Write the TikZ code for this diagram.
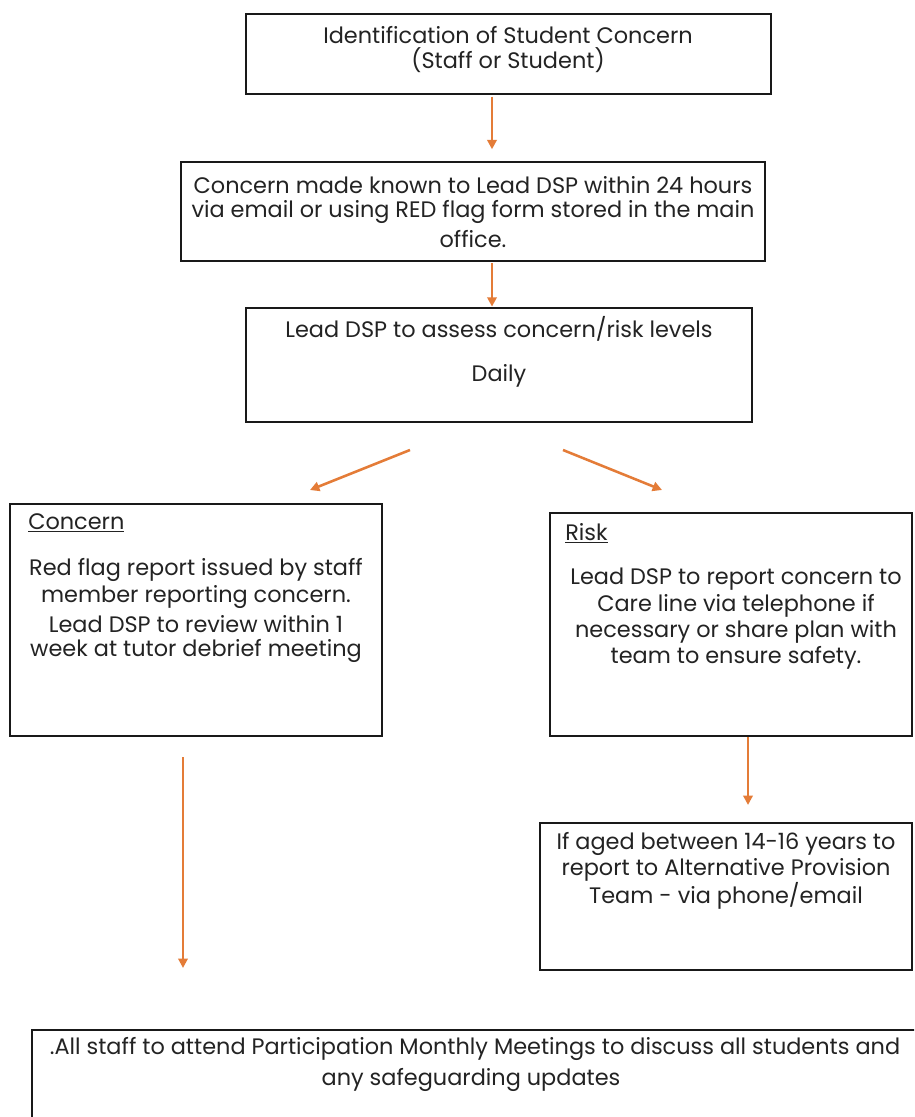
\documentclass[tikz,border=0pt]{standalone}
\usepackage{fontspec}
\setmainfont{Poppins}
\usetikzlibrary{arrows.meta,calc}
\definecolor{arrowc}{RGB}{228,124,56}
\definecolor{txt}{RGB}{35,35,35}
\tikzset{
  box/.style={draw=black!90,line width=1.1pt,rectangle,inner sep=0pt},
  txtline/.style={text=txt,font=\fontsize{16.8}{19}\selectfont,inner sep=0pt,anchor=center},
  bigtxt/.style={text=txt,font=\fontsize{16.8}{19}\selectfont,inner sep=0pt,anchor=center},
  arr/.style={draw=arrowc,line width=1.9pt,-{Triangle[length=7pt,width=7pt]}}
}
\begin{document}
\begin{tikzpicture}[x=0.75pt,y=-0.75pt]
\clip (0,0) rectangle (914,1117);
\fill[white] (0,0) rectangle (914,1117);
% boxes
\node[box,minimum width=525*0.75pt,minimum height=80*0.75pt] (b1) at (508.5,54) {};
\node[box,minimum width=584*0.75pt,minimum height=99*0.75pt] (b2) at (473,211.5) {};
\node[box,minimum width=506*0.75pt,minimum height=114*0.75pt] (b3) at (499,365) {};
\node[box,minimum width=372*0.75pt,minimum height=232*0.75pt] (con) at (196,620) {};
\node[box,minimum width=362*0.75pt,minimum height=223*0.75pt] (risk) at (731,624.5) {};
\node[box,minimum width=372*0.75pt,minimum height=147*0.75pt] (age) at (726,896.5) {};
\node[box,minimum width=920*0.75pt,minimum height=140*0.75pt] (all) at (492,1100) {};
% texts
\node[txtline] (t1a) at (508,35) {Identification of Student Concern};
\node[txtline] (t1b) at (508,60) {(Staff or Student)};
\node[txtline] (t2a) at (473,185) {Concern made known to Lead DSP within 24 hours};
\node[txtline] (t2b) at (473,212) {via email or using RED flag form stored in the main};
\node[txtline] (t2c) at (473,239) {office.};
\node[txtline] (t3a) at (499,329) {Lead DSP to assess concern/risk levels};
\node[txtline] (t3b) at (499,376) {Daily};
\node[txtline,anchor=west] (t4h) at (28,523) {\underline{Concern}};
\node[txtline] (t4a) at (196,570) {Red flag report issued by staff};
\node[txtline] (t4b) at (196,597) {member reporting concern.};
\node[txtline] (t4c) at (196,624) {Lead DSP to review within 1};
\node[txtline] (t4d) at (196,651) {week at tutor debrief meeting};
\node[txtline,anchor=west] (t5h) at (565,533) {\underline{Risk}};
\node[txtline] (t5a) at (736,579) {Lead DSP to report concern to};
\node[txtline] (t5b) at (736,606) {Care line via telephone if};
\node[txtline] (t5c) at (736,632) {necessary or share plan with};
\node[txtline] (t5d) at (736,658) {team to ensure safety.};
\node[txtline] (t6a) at (726,844) {If aged between 14-16 years to};
\node[txtline] (t6b) at (726,870) {report to Alternative Provision};
\node[txtline] (t6c) at (726,896) {Team - via phone/email};
\node[bigtxt] (t7a) at (475,1049) {.All staff to attend Participation Monthly Meetings to discuss all students and};
\node[bigtxt] (t7b) at (471,1080) {any safeguarding updates};
% connector helpers
\coordinate (cx) at (492,0);
\coordinate (lx) at (183,0);
\coordinate (rx) at (748,0);
\coordinate (dls) at (410,450);
\coordinate (dle) at (310,490);
\coordinate (drs) at (563,450);
\coordinate (dre) at (662,490);
% connectors
\draw[arr,shorten <=1.5pt,shorten >=9pt] (b1.south -| cx) -- (b2.north -| cx);
\draw[arr,shorten <=1pt,shorten >=0.5pt] (b2.south -| cx) -- (b3.north -| cx);
\draw[arr] (dls) -- (dle);
\draw[arr] (drs) -- (dre);
\draw[arr,shorten <=15.5pt,shorten >=46pt] (con.south -| lx) -- (all.north -| lx);
\draw[arr,shorten <=0.5pt,shorten >=13pt] (risk.south -| rx) -- (age.north -| rx);
\end{tikzpicture}
\end{document}
